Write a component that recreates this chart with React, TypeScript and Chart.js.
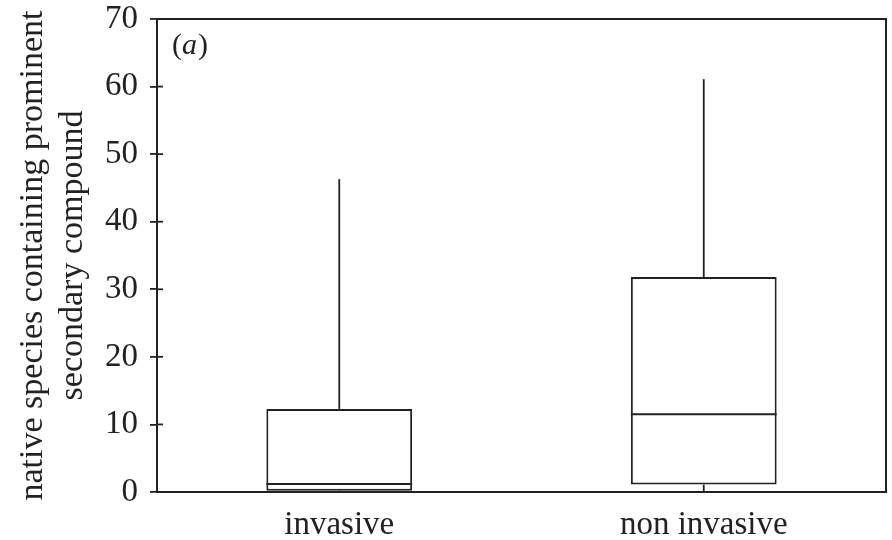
import React, { useEffect, useRef } from "react";
import { Chart, registerables } from "chart.js";

Chart.register(...registerables);

const categories = ["invasive", "non invasive"];
const whiskerMin = [0, 0];
const q1 = [0.2, 1.1];
const median = [1.2, 11.5];
const q3 = [12.3, 31.8];
const whiskerMax = [46.3, 61.1];
const yTicks = [0, 10, 20, 30, 40, 50, 60, 70];
const yTitle = ["native species containing prominent", "secondary compound"];
const panelLabel = ["(", "a", ")"];

const INK = "#222";
const FONT = "'Liberation Serif', 'DejaVu Serif', serif";

const boxPlugin = {
  id: "boxExtras",
  afterDatasetsDraw(chart: any) {
    const ctx = chart.ctx;
    const y = chart.scales.y;
    const meta = chart.getDatasetMeta(0);
    const area = chart.chartArea;
    ctx.save();
    ctx.strokeStyle = INK;
    ctx.lineCap = "butt";
    meta.data.forEach((el: any, i: number) => {
      const { x, width } = el.getProps(["x", "width"], true);
      ctx.lineWidth = 1.8;
      ctx.beginPath();
      ctx.moveTo(x, y.getPixelForValue(q3[i]));
      ctx.lineTo(x, y.getPixelForValue(whiskerMax[i]));
      ctx.stroke();
      ctx.beginPath();
      ctx.moveTo(x, y.getPixelForValue(q1[i]));
      ctx.lineTo(x, y.getPixelForValue(whiskerMin[i]));
      ctx.stroke();
      const my = y.getPixelForValue(median[i]);
      ctx.lineWidth = 2;
      ctx.beginPath();
      ctx.moveTo(x - width / 2, my);
      ctx.lineTo(x + width / 2, my);
      ctx.stroke();
    });
    ctx.lineWidth = 2;
    ctx.strokeRect(area.left, area.top, area.right - area.left, area.bottom - area.top);
    ctx.lineWidth = 1.8;
    yTicks.forEach((v) => {
      const py = y.getPixelForValue(v);
      ctx.beginPath();
      ctx.moveTo(area.left, py);
      ctx.lineTo(area.left + 6, py);
      ctx.stroke();
    });
    ctx.fillStyle = INK;
    ctx.textBaseline = "alphabetic";
    ctx.textAlign = "left";
    let px = area.left + 15;
    const py = y.getPixelForValue(64.8);
    panelLabel.forEach((t, k) => {
      ctx.font = `${k === 1 ? "italic " : ""}30px ${FONT}`;
      ctx.fillText(t, px, py);
      px += ctx.measureText(t).width + (k === 1 ? 1 : 0);
    });
    ctx.restore();
  },
};

export default function App() {
  const ref = useRef<HTMLCanvasElement>(null);
  useEffect(() => {
    if (!ref.current) return;
    const chart = new Chart(ref.current, {
      type: "bar",
      data: {
        labels: categories,
        datasets: [
          {
            data: categories.map((_, i) => [q1[i], q3[i]]) as any,
            backgroundColor: "#ffffff",
            borderColor: INK,
            borderWidth: 2,
            borderSkipped: false,
            barPercentage: 0.4,
            categoryPercentage: 1,
          },
        ],
      },
      options: {
        animation: false,
        responsive: false,
        layout: { padding: { top: 19, right: 6, left: 0, bottom: 0 } },
        plugins: { legend: { display: false }, tooltip: { enabled: false } },
        scales: {
          x: {
            grid: { display: false, drawTicks: false },
            border: { display: true, color: INK, width: 2 },
            ticks: { color: INK, font: { family: FONT, size: 33 }, padding: 14 },
            afterFit: (s: any) => {
              s.height = 48;
              s.paddingLeft = 0;
              s.paddingRight = 0;
            },
          },
          y: {
            min: 0,
            max: 70,
            afterBuildTicks: (s: any) => {
              s.ticks = yTicks.map((v) => ({ value: v }));
            },
            grid: { drawOnChartArea: false, drawTicks: true, tickLength: 7, color: INK, lineWidth: 1.8 },
            border: { display: true, color: INK, width: 2 },
            ticks: { color: INK, font: { family: FONT, size: 33 }, padding: 12 },
            title: {
              display: true,
              text: yTitle,
              color: INK,
              font: { family: FONT, size: 34, lineHeight: 1.15 },
              padding: { top: 14, bottom: 0 },
            },
            afterFit: (s: any) => {
              s.width = 157;
              s.paddingTop = 0;
              s.paddingBottom = 0;
            },
          },
        },
      },
      plugins: [boxPlugin],
    });
    return () => chart.destroy();
  }, []);
  return (
    <div style={{ position: "absolute", left: 0, top: 0, width: 892, height: 540, background: "#fff" }}>
      <canvas ref={ref} width={892} height={540} />
    </div>
  );
}
